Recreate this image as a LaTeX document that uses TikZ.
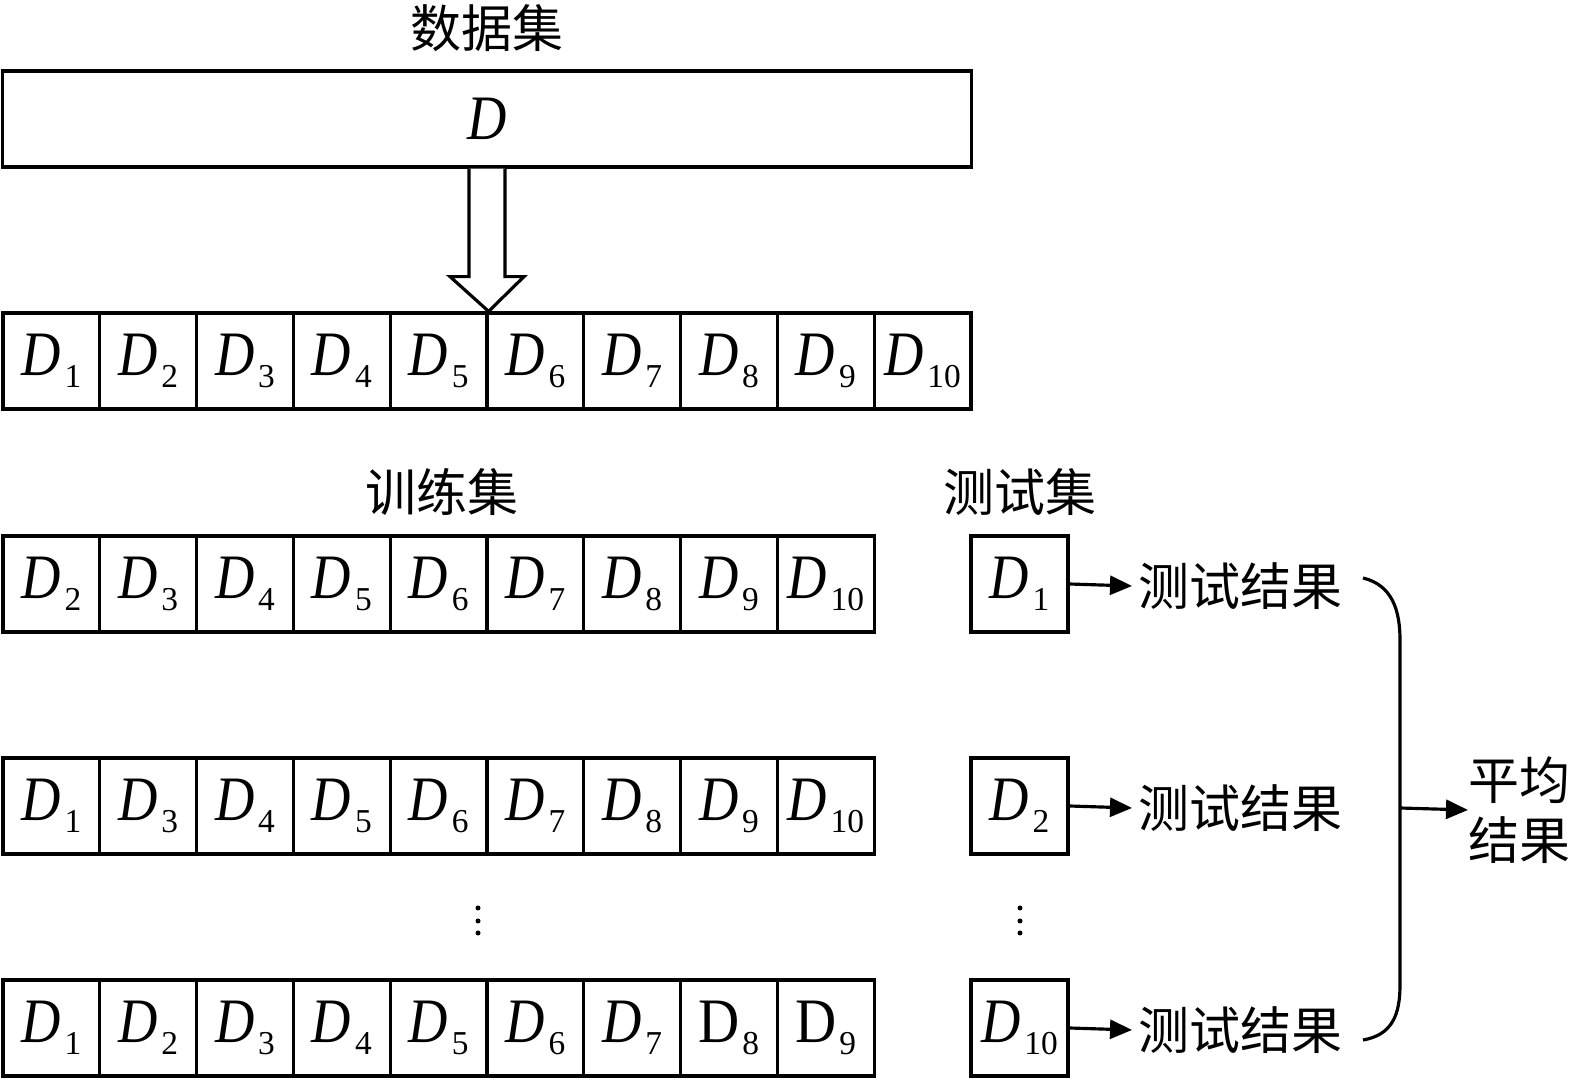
\documentclass[tikz,border=0pt]{standalone}
\usepackage{fontspec}
\usepackage{graphicx}
\setmainfont{Liberation Serif}
\newfontfamily\cjk{Noto Sans CJK SC}
\usetikzlibrary{arrows.meta,calc}
\newcommand\subsz{\fontsize{9.5}{10}\selectfont}
\newcommand\Dn[1]{\scalebox{0.86}[1]{\itshape D}\kern0.06em\raisebox{-3.4pt}{\subsz #1}}
\newcommand\Du[1]{\scalebox{0.9}[1]{D}\kern0.04em\raisebox{-3.4pt}{\subsz #1}}
\tikzset{
  ln/.style={line width=0.9pt},
  cell/.style={ln,draw,minimum width=0.968cm,minimum height=0.96cm,inner sep=0pt,font=\fontsize{18}{20}\selectfont},
  lab/.style={inner sep=0pt,font=\cjk\fontsize{14.5}{17}\selectfont},
  arr/.style={ln,-{Triangle[length=0.22cm,width=0.19cm]}},
  dot/.style={fill,circle,inner sep=0pt,minimum size=0.05cm}
}
\begin{document}
\begin{tikzpicture}[x=0.01cm,y=-0.01cm]
\useasboundingbox (0,0) rectangle (1575,1083);
% title and big box
\node[lab] (title) at (487,28) {数据集};
\node[cell,minimum width=9.68cm] (big) at (487,119) {\scalebox{0.86}[1]{\itshape D}};
% row of ten
\foreach \i in {1,...,10} {
  \node[cell] (a\i) at ({3+96.8*(\i-0.5)},361) {\Dn{\i}};
}
% hollow arrow
\draw[ln,fill=white,line join=miter] ($(big.south)+(-18,0)$) -- ($(big.south)+(-18,108)$) -- ($(big.south)+(-37,108)$)
  -- (a5.north east) -- ($(big.south)+(37,108)$) -- ($(big.south)+(18,108)$) -- ($(big.south)+(18,0)$);
% labels
\node[lab] (train) at (442,492) {训练集};
\node[lab] (test) at (1020,492) {测试集};
% row 2
\foreach \k [count=\i] in {2,...,10} {
  \node[cell] (b\i) at ({3+96.8*(\i-0.5)},584) {\Dn{\k}};
}
% row 3
\foreach \k [count=\i] in {1,3,4,5,6,7,8,9,10} {
  \node[cell] (c\i) at ({3+96.8*(\i-0.5)},806) {\Dn{\k}};
}
% row 4
\foreach \k [count=\i] in {1,...,7} {
  \node[cell] (d\i) at ({3+96.8*(\i-0.5)},1028) {\Dn{\k}};
}
\node[cell] (d8) at ({3+96.8*7.5},1028) {\Du{8}};
\node[cell] (d9) at ({3+96.8*8.5},1028) {\Du{9}};
% test boxes
\node[cell] (t1) at (1019.5,584) {\Dn{1}};
\node[cell] (t2) at (1019.5,806) {\Dn{2}};
\node[cell] (t3) at (1019.5,1028) {\Dn{10}};
% results
\node[lab,anchor=west,inner xsep=0.06cm] (r1) at (1132,586) {测试结果};
\node[lab,anchor=west,inner xsep=0.06cm] (r2) at (1132,808) {测试结果};
\node[lab,anchor=west,inner xsep=0.06cm] (r3) at (1132,1030) {测试结果};
\draw[arr] (t1.east) -- (r1.west);
\draw[arr] (t2.east) -- (r2.west);
\draw[arr] (t3.east) -- (r3.west);
% dots
\foreach \y in {908,921,933} {
  \node[dot] at (478,\y) {};
  \node[dot] at (1020,\y) {};
}
% brace
\coordinate (bt) at (1363,578);
\coordinate (bb) at (1363,1040);
\coordinate (bm) at (1400,808);
\draw[ln] (bt) .. controls (1392,585) and (1400,610) .. (1400,640) -- (1400,985)
  .. controls (1400,1015) and (1392,1035) .. (bb);
\node[lab,anchor=west,align=left] (avg) at (1468,810) {平均\\结果};
\draw[arr] (bm) -- (avg.west);
\end{tikzpicture}
\end{document}
